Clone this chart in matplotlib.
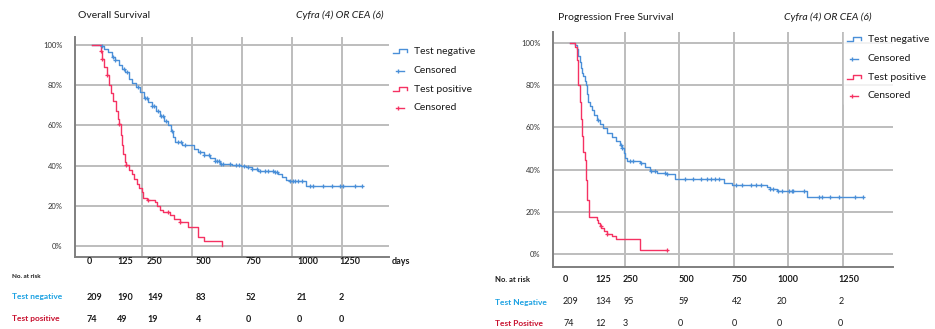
import matplotlib
matplotlib.use("Agg")
import matplotlib.pyplot as plt
import numpy as np
from matplotlib.lines import Line2D
from matplotlib.legend_handler import HandlerBase
from matplotlib.transforms import blended_transform_factory

plt.rcParams['font.family'] = ['Lato', 'DejaVu Sans']

# ---- Overall Survival (left) ----
os_neg_t = [0, 45, 60, 80, 100, 115, 135, 150, 165, 185, 200, 220, 240, 260, 280, 300, 320, 340,
            360, 380, 395, 405, 415, 450, 510, 530, 560, 590, 615, 640, 700, 745, 770, 800, 830,
            910, 930, 950, 970, 985, 1070, 1348]
os_neg_s = [100, 99.5, 98, 96.5, 94, 92.5, 90, 88, 86.5, 83, 81, 79, 76.5, 73.5, 71.5, 69.5, 67, 64.5,
            62, 60, 57, 54, 51.5, 50, 48.5, 47, 45.5, 44, 42.5, 41, 40.5, 40, 39.2, 38.5, 37.5,
            37, 36, 34.5, 33, 32.5, 30, 30]
os_neg_cens = [48, 105, 115, 160, 175, 230, 265, 275, 300, 310, 330, 345, 355, 370, 400, 430, 445,
               465, 540, 560, 585, 615, 625, 635, 645, 655, 690, 720, 735, 760, 780, 800, 825, 840,
               865, 880, 905, 915, 925, 990, 1005, 1015, 1030, 1050, 1090, 1107, 1157, 1198, 1240,
               1257, 1315, 1348]

os_pos_t = [0, 45, 48, 60, 73, 85, 95, 107, 120, 130, 137, 143, 148, 157, 165, 170, 185, 198, 210,
            223, 235, 248, 257, 275, 315, 325, 340, 355, 390, 410, 440, 482, 532, 560, 652]
os_pos_s = [100, 97, 93, 89, 85, 80, 76, 72, 67, 63, 60.5, 55, 50, 46, 42, 40.5, 38, 36, 33.5,
            31, 29, 27, 24, 23, 22, 20, 18, 17, 15.4, 13.5, 12, 9.6, 4.6, 2.5, 0]
os_pos_cens = [45, 50, 75, 137, 170, 282, 382, 440]

os_cols = ["0", "125", "250", "500", "750", "1000", "1250"]
os_risk_neg = [209, 190, 149, 83, 52, 21, 2]
os_risk_pos = [74, 49, 19, 4, 0, 0, 0]

# ---- Progression Free Survival (right) ----
pfs_neg_t = [0, 25, 32, 38, 44, 49, 55, 61, 67, 72, 78, 84, 92, 99, 110, 122, 135, 153, 170, 191,
             210, 229, 237, 247, 252, 260, 320, 343, 366, 400, 443, 481, 705, 740, 900, 916, 946,
             1087, 1343]
pfs_neg_s = [100, 99, 97, 94, 91, 88, 86, 84.5, 82, 80, 76, 72, 70, 68, 66, 63.5, 61.5, 59.6, 57.5,
             55.6, 53.5, 51.7, 50, 47.7, 45.3, 44, 43, 41, 39.5, 38.5, 37.9, 35.5, 33.5, 32.7, 31.5,
             31, 30, 26.9, 26.9]
pfs_neg_cens = [127, 232, 237, 275, 290, 325, 371, 390, 435, 443, 525, 565, 600, 626, 645, 663, 682,
                760, 788, 830, 850, 876, 916, 931, 954, 970, 1005, 1016, 1023, 1070, 1139, 1154,
                1192, 1230, 1306, 1343]

pfs_pos_t = [0, 23, 32, 38, 44, 49, 55, 61, 69, 73, 79, 88, 122, 127, 135, 142, 155, 168, 190, 209,
             320, 443]
pfs_pos_s = [100, 98, 92, 80, 72, 64, 56, 48.5, 44.5, 35, 25.6, 17.4, 16, 14.5, 13, 12.2, 11, 9.5,
             8.5, 7.1, 1.9, 1.9]
pfs_pos_cens = [140, 171, 443]

pfs_cols = ["0", "125", "250", "500", "750", "1000", "1250"]
pfs_risk_neg = [209, 134, 95, 59, 42, 20, 2]
pfs_risk_pos = [74, 12, 3, 0, 0, 0, 0]

BLUE = "#4a8fd8"
RED = "#f53262"
TXT_BLUE = "#1ba1e2"
TXT_RED = "#c8102e"
GRID = "#bdbdbd"
INK = "#1a1a1a"


class HandlerStep(HandlerBase):
    def create_artists(self, legend, orig, xd, yd, w, h, fontsize, trans):
        xs = [xd, xd + 0.45 * w, xd + 0.45 * w, xd + w, xd + w]
        ys = [yd + 0.15 * h, yd + 0.15 * h, yd + 0.7 * h, yd + 0.7 * h, yd + 0.3 * h]
        ln = Line2D(xs, ys, color=orig.get_color(), lw=1.0, transform=trans)
        return [ln]


class HandlerCens(HandlerBase):
    def create_artists(self, legend, orig, xd, yd, w, h, fontsize, trans):
        ln = Line2D([xd + 0.2 * w, xd + 0.8 * w], [yd + 0.35 * h] * 2, color=orig.get_color(),
                    lw=1.0, transform=trans)
        mk = Line2D([xd + 0.35 * w], [yd + 0.35 * h], color=orig.get_color(), marker='|',
                    ms=3.5, mew=1.0, transform=trans)
        return [ln, mk]


def step_at(t, s, x):
    i = np.searchsorted(t, x, side='right') - 1
    return np.array(s)[np.clip(i, 0, len(s) - 1)]


def draw_panel(ax, neg_t, neg_s, neg_c, pos_t, pos_s, pos_c, xlim, ylim):
    ax.set_xlim(*xlim)
    ax.set_ylim(*ylim)
    for x in [250, 500, 750, 1000, 1250]:
        ax.axvline(x, color=GRID, lw=1.4, zorder=0)
    for y in [0, 20, 40, 60, 80, 100]:
        ax.axhline(y, color=GRID, lw=1.4, zorder=0)
    ax.step(neg_t, neg_s, where='post', color=BLUE, lw=1.0, zorder=3)
    ax.step(pos_t, pos_s, where='post', color=RED, lw=1.0, zorder=3)
    ax.plot(neg_c, step_at(neg_t, neg_s, neg_c), '+', color=BLUE, ms=3.2, mew=0.9, zorder=4)
    ax.plot(pos_c, step_at(pos_t, pos_s, pos_c), '+', color=RED, ms=3.2, mew=0.9, zorder=4)
    for sp in ['top', 'right']:
        ax.spines[sp].set_visible(False)
    for sp in ['left', 'bottom']:
        ax.spines[sp].set_color('#7f7f7f')
        ax.spines[sp].set_linewidth(1.4)
    ax.set_yticks([0, 20, 40, 60, 80, 100])
    ax.set_yticklabels(["0%", "20%", "40%", "60%", "80%", "100%"], fontsize=5.5, color='#333333')
    ax.tick_params(axis='y', length=0, pad=9)
    ax.set_xticks([])


fig = plt.figure(figsize=(9.35, 3.29), dpi=100)

# left panel
ax1 = fig.add_axes([75 / 935, 1 - 257 / 329, 314 / 935, 220 / 329])
draw_panel(ax1, os_neg_t, os_neg_s, os_neg_cens, os_pos_t, os_pos_s, os_pos_cens,
           (-85, 1485), (-5.5, 104))
# right panel
ax2 = fig.add_axes([553 / 935, 1 - 267 / 329, 340 / 935, 235 / 329])
draw_panel(ax2, pfs_neg_t, pfs_neg_s, pfs_neg_cens, pfs_pos_t, pfs_pos_s, pfs_pos_cens,
           (-78, 1479), (-6.2, 105.2))

# titles
fig.text(78 / 935, 1 - 15 / 329, "Overall Survival", fontsize=7.5, va='center', color=INK)
fig.text(383 / 935, 1 - 15 / 329, "Cyfra (4) OR CEA (6)", fontsize=7.5, va='center', ha='right',
         style='italic', color=INK)
fig.text(558 / 935, 1 - 17 / 329, "Progression Free Survival", fontsize=7.5, va='center', color=INK)
fig.text(872 / 935, 1 - 17 / 329, "Cyfra (4) OR CEA (6)", fontsize=7.5, va='center', ha='right',
         style='italic', color=INK)

# left: x labels + risk table (columns left aligned)
col_left = [-25, 125, 275, 520, 770, 1025, 1235]
tr1 = blended_transform_factory(ax1.transData, fig.transFigure)
for x, lab, n, p in zip(col_left, os_cols, os_risk_neg, os_risk_pos):
    ax1.text(x, 1 - 262 / 329, lab, transform=tr1, fontsize=6.5, fontweight='bold', va='center', color=INK)
    ax1.text(x, 1 - 297 / 329, str(n), transform=tr1, fontsize=6.5, fontweight='bold', va='center', color=INK)
    ax1.text(x, 1 - 319 / 329, str(p), transform=tr1, fontsize=6.5, fontweight='bold', va='center', color=INK)
fig.text(392 / 935, 1 - 262 / 329, "days", fontsize=6.5, fontweight='bold', va='center', color=INK)
fig.text(12 / 935, 1 - 277 / 329, "No. at risk", fontsize=4.5, fontweight='bold', va='center', color=INK)
fig.text(12 / 935, 1 - 297 / 329, "Test negative", fontsize=6, fontweight='bold', va='center', color=TXT_BLUE)
fig.text(12 / 935, 1 - 319 / 329, "Test positive", fontsize=6, fontweight='bold', va='center', color=TXT_RED)

# right: x labels + risk table
col_right = [-32, 114, 243, 495, 742, 948, 1228]
tr2 = blended_transform_factory(ax2.transData, fig.transFigure)
for x, lab, n, p in zip(col_right, pfs_cols, pfs_risk_neg, pfs_risk_pos):
    ax2.text(x, 1 - 279 / 329, lab, transform=tr2, fontsize=6.5, fontweight='bold', va='center', color=INK)
    ax2.text(x, 1 - 302 / 329, str(n), transform=tr2, fontsize=6.5, va='center', color=INK)
    ax2.text(x, 1 - 324 / 329, str(p), transform=tr2, fontsize=6.5, va='center', color=INK)
fig.text(495 / 935, 1 - 279 / 329, "No. at risk", fontsize=5.5, fontweight='bold', va='center', color=INK)
fig.text(495 / 935, 1 - 302 / 329, "Test Negative", fontsize=6, fontweight='bold', va='center', color=TXT_BLUE)
fig.text(495 / 935, 1 - 324 / 329, "Test Positive", fontsize=6, fontweight='bold', va='center', color=TXT_RED)

# legends
h_neg = Line2D([], [], color=BLUE)
h_negc = Line2D([], [], color=BLUE)
h_pos = Line2D([], [], color=RED)
h_posc = Line2D([], [], color=RED)
hmap = {h_neg: HandlerStep(), h_pos: HandlerStep(), h_negc: HandlerCens(), h_posc: HandlerCens()}
labels = ["Test negative", "Censored", "Test positive", "Censored"]
for anchor in [(390 / 935, 1 - 44 / 329), (844 / 935, 1 - 32 / 329)]:
    leg = fig.legend([h_neg, h_negc, h_pos, h_posc], labels, handler_map=hmap,
                     loc='upper left', bbox_to_anchor=anchor, fontsize=7.5,
                     frameon=True, facecolor='white', edgecolor='white', fancybox=False,
                     handlelength=1.35, handletextpad=0.65, labelspacing=0.9,
                     borderpad=0.3, borderaxespad=0)
    leg.set_zorder(10)
    for t in leg.get_texts():
        t.set_color(INK)

fig.savefig("out.png", dpi=100)
